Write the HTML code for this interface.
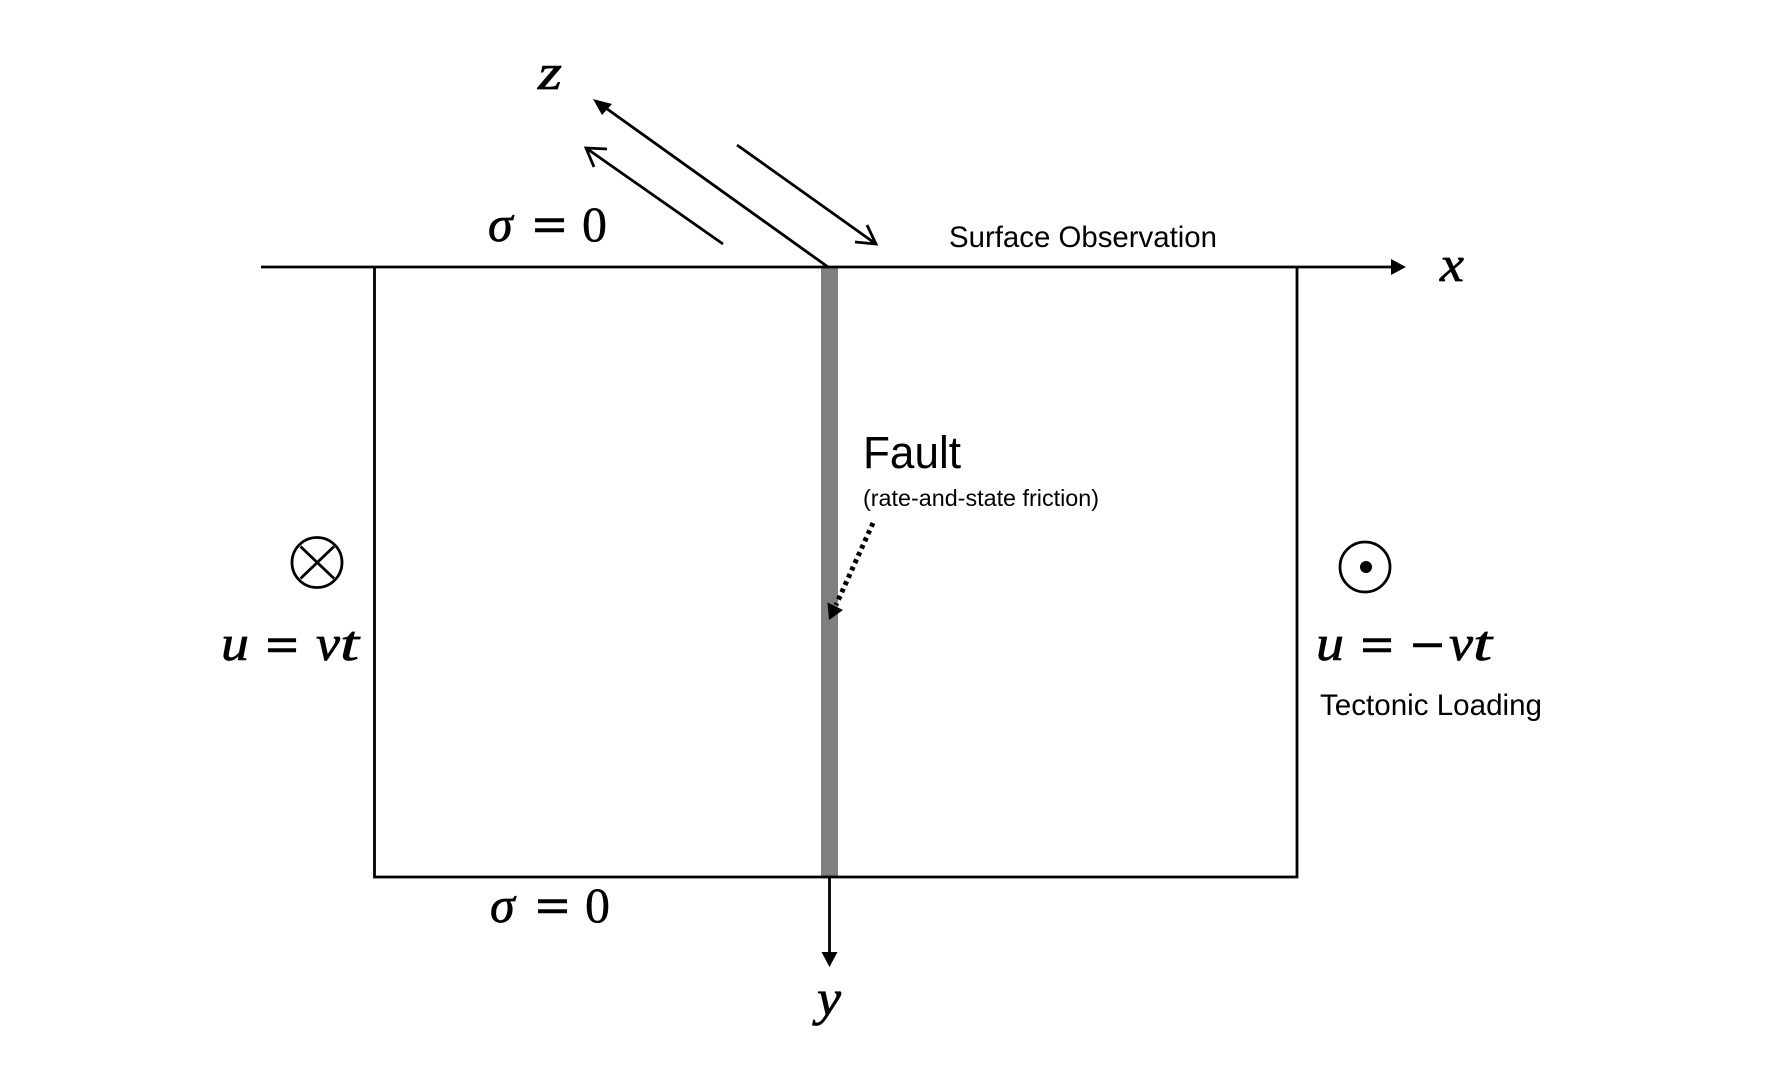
<!DOCTYPE html>
<html><head><meta charset="utf-8"><style>
html,body{margin:0;padding:0;background:#fff}
svg{display:block}
.m{font-family:"Liberation Serif","DejaVu Serif",serif;font-size:50px;fill:#000}
.i{font-style:italic;stroke:#000;stroke-width:.7px}
.e{stroke:#000;stroke-width:1.5px}
.d{stroke:#000;stroke-width:.4px}
.s{font-family:"Liberation Sans",sans-serif;fill:#000}
</style></head><body>
<svg width="1778" height="1087" viewBox="0 0 1778 1087" xmlns="http://www.w3.org/2000/svg">
<rect width="1778" height="1087" fill="#fff"/>
<rect x="821" y="267" width="17" height="610" fill="#7f7f7f"/>
<g fill="none" stroke="#000" stroke-width="2.8">
<path d="M261 267H1392"/>
<path d="M374.500 267V877H1297V267"/>
<path d="M829.500 877V955"/>
<path d="M828 267L603 106"/>
<path d="M723 244L586 148M607 149L586 148L594 167"/>
<path d="M737 145L876 244M855 242L876 244L867 225"/>
<circle cx="317" cy="562.500" r="25"/>
<path d="M300.500 546.500L334 578.500M334 546.500L300.500 578.500"/>
<circle cx="1365" cy="567" r="25"/>
</g>
<path d="M873 523L836 605" fill="none" stroke="#000" stroke-width="5" stroke-dasharray="4 4"/>
<g fill="#000">
<path d="M1406 267L1391 259V275Z"/>
<path d="M829.500 967L821.500 952H837.500Z"/>
<path d="M593 99L612 104L602 115Z"/>
<path d="M829 620L827.500 602.500L843 610Z"/>
<circle cx="1366" cy="567" r="6"/>
</g>
<text class="m i" x="538" y="89" textLength="24" lengthAdjust="spacingAndGlyphs">z</text>
<text class="m i" x="1440" y="281" textLength="24" lengthAdjust="spacingAndGlyphs">x</text>
<text class="m i" x="817" y="1015" textLength="24" lengthAdjust="spacingAndGlyphs">y</text>

<text class="m i" x="488" y="241">σ</text>
<text class="m e" x="533" y="242" textLength="33" lengthAdjust="spacingAndGlyphs">=</text>
<text class="m d" x="582" y="241">0</text>

<text class="m i" x="490" y="922">σ</text>
<text class="m e" x="536" y="923" textLength="33" lengthAdjust="spacingAndGlyphs">=</text>
<text class="m d" x="585" y="922">0</text>

<text class="m i" x="221" y="660" textLength="28" lengthAdjust="spacingAndGlyphs">u</text>
<text class="m e" x="266" y="662" textLength="32" lengthAdjust="spacingAndGlyphs">=</text>
<text class="m i" x="316" y="660" textLength="24" lengthAdjust="spacingAndGlyphs">v</text>
<text class="m i" x="340" y="660" textLength="19" lengthAdjust="spacingAndGlyphs">t</text>

<text class="m i" x="1316" y="660" textLength="28" lengthAdjust="spacingAndGlyphs">u</text>
<text class="m e" x="1361" y="662" textLength="32" lengthAdjust="spacingAndGlyphs">=</text>
<text class="m e" x="1411" y="662" textLength="33" lengthAdjust="spacingAndGlyphs">−</text>
<text class="m i" x="1449" y="660" textLength="24" lengthAdjust="spacingAndGlyphs">v</text>
<text class="m i" x="1473" y="660" textLength="19" lengthAdjust="spacingAndGlyphs">t</text>

<text class="s" x="949" y="247" font-size="30" textLength="268" lengthAdjust="spacingAndGlyphs">Surface Observation</text>
<text class="s" x="863" y="468" font-size="45" textLength="98" lengthAdjust="spacingAndGlyphs">Fault</text>
<text class="s" x="863" y="506" font-size="23" textLength="236" lengthAdjust="spacingAndGlyphs">(rate-and-state friction)</text>
<text class="s" x="1320" y="715" font-size="30" textLength="222" lengthAdjust="spacingAndGlyphs">Tectonic Loading</text>
</svg>
</body></html>
